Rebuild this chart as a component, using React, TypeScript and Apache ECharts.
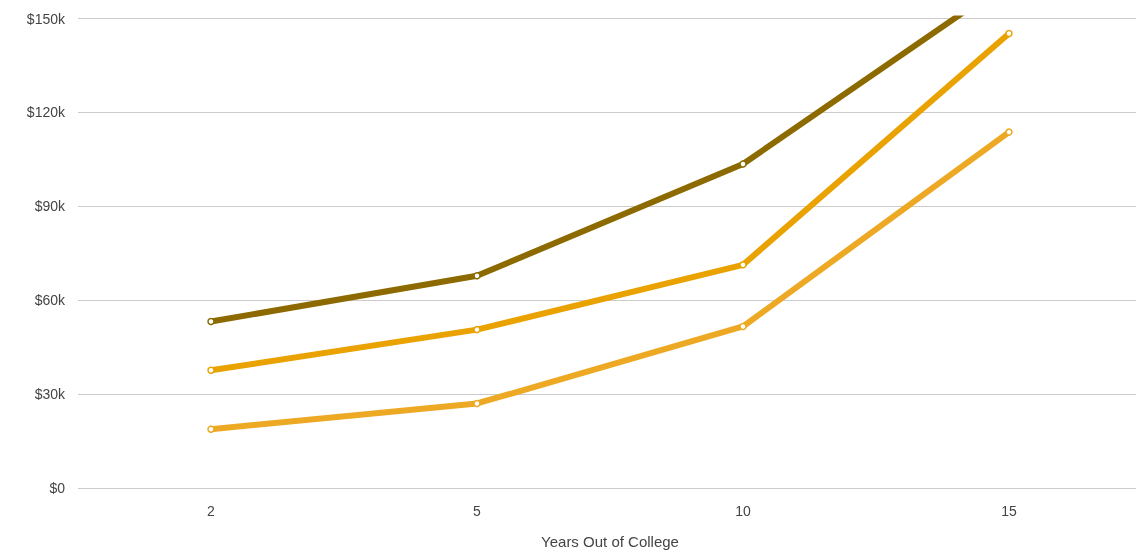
import React, { useEffect, useRef } from "react";
import * as echarts from "echarts";

const years = ["2", "5", "10", "15"];
const top = [53.2, 67.8, 103.5, 162];
const middle = [37.6, 50.6, 71.3, 145.2];
const bottom = [18.8, 27.0, 51.6, 113.7];
const seriesNames = ["Top", "Middle", "Bottom"];
const colors = ["#8c6a00", "#e9a200", "#eda923"];

export default function App() {
  const ref = useRef<HTMLDivElement>(null);
  useEffect(() => {
    if (!ref.current) return;
    const chart = echarts.init(ref.current, null, { renderer: "svg" });
    const data = [top, middle, bottom];
    chart.setOption({
      animation: false,
      grid: { left: 78, right: 0, top: 18.5, bottom: 64.5 },
      xAxis: {
        type: "category",
        data: years,
        boundaryGap: true,
        axisLine: { show: false },
        axisTick: { show: false },
        axisLabel: { color: "#444", fontSize: 14, margin: 16, fontFamily: "Liberation Sans" },
        name: "Years Out of College",
        nameLocation: "middle",
        nameGap: 46,
        nameTextStyle: { color: "#444", fontSize: 15, fontFamily: "Liberation Sans" },
      },
      yAxis: {
        type: "value",
        min: 0,
        max: 150,
        interval: 30,
        axisLine: { show: false },
        axisTick: { show: false },
        splitLine: { lineStyle: { color: "#cccccc", width: 1 } },
        axisLabel: {
          color: "#444",
          fontSize: 14,
          margin: 13,
          fontFamily: "Liberation Sans",
          formatter: (v: number) => (v === 0 ? "$0" : "$" + v + "k"),
        },
      },
      series: data.map((d, i) => ({
        name: seriesNames[i],
        type: "line",
        data: d,
        clip: true,
        symbol: "circle",
        symbolSize: 6,
        lineStyle: { color: colors[i], width: 6 },
        itemStyle: { color: "#ffffff", borderColor: colors[i], borderWidth: 1.5 },
        z: 3 - i,
      })),
    });
    return () => chart.dispose();
  }, []);
  return (
    <div
      ref={ref}
      style={{ position: "fixed", left: 0, top: 0, width: 1142, height: 554 }}
    />
  );
}
